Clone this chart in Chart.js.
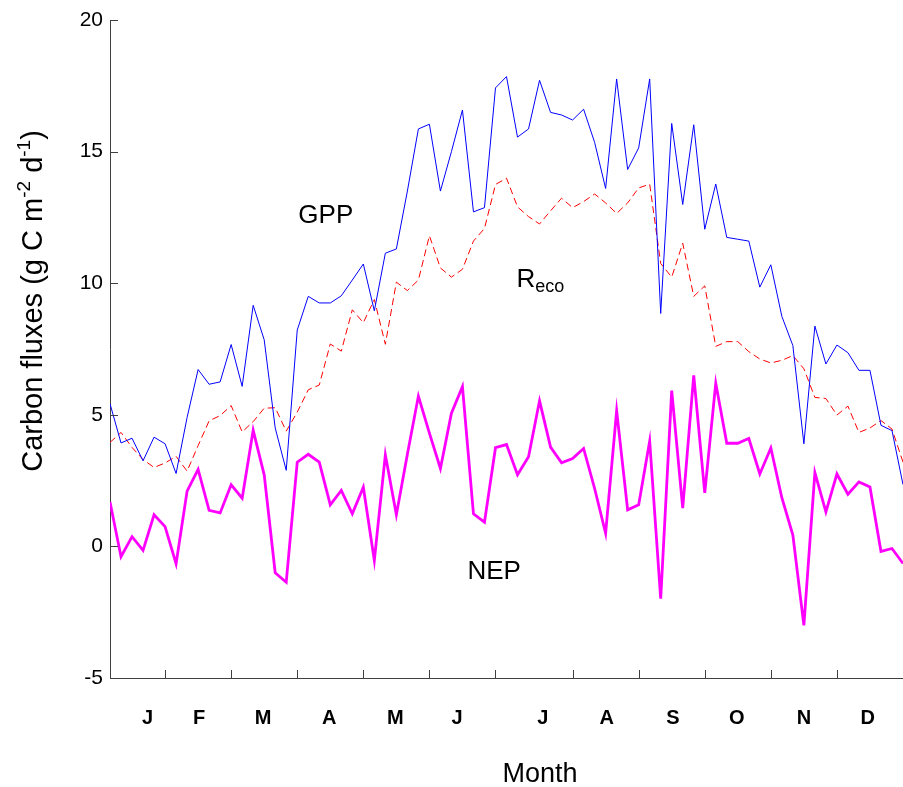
<!DOCTYPE html>
<html>
<head>
<meta charset="utf-8">
<script src="https://cdn.jsdelivr.net/npm/chart.js@4.4.1/dist/chart.umd.min.js"></script>
<style>
  body { margin: 0; background: #fff; }
</style>
</head>
<body>
<canvas id="grafico" width="903" height="787"></canvas>
<script>
// 5-day periods, 73 per year
const gpp = [5.42, 3.93, 4.11, 3.25, 4.15, 3.9, 2.77, 4.9, 6.72, 6.16, 6.25, 7.67, 6.08, 9.16, 7.85,
  4.5, 2.89, 8.22, 9.5, 9.25, 9.25, 9.52, 10.12, 10.73, 8.95, 11.14, 11.3, 13.5, 15.86, 16.04,
  13.5, 15.0, 16.58, 12.71, 12.87, 17.42, 17.85, 15.55, 15.86, 17.71, 16.49, 16.39, 16.2, 16.61, 15.35,
  13.6, 17.76, 14.32, 15.14, 17.76, 8.85, 16.07, 12.99, 16.02, 12.05, 13.77, 11.74, 11.67, 11.6, 9.85,
  10.7, 8.74, 7.63, 3.9, 8.37, 6.93, 7.65, 7.36, 6.69, 6.69, 4.6, 4.4, 2.35];
const reco = [3.95, 4.33, 3.76, 3.3, 3.0, 3.17, 3.42, 2.86, 3.83, 4.77, 4.97, 5.35, 4.35, 4.74, 5.25,
  5.27, 4.38, 5.1, 5.95, 6.13, 7.69, 7.42, 8.99, 8.5, 9.38, 7.68, 10.04, 9.72, 10.12, 11.8,
  10.58, 10.23, 10.53, 11.6, 12.08, 13.75, 13.99, 12.9, 12.53, 12.25, 12.75, 13.23, 12.87, 13.1, 13.39,
  13.05, 12.65, 13.05, 13.62, 13.76, 10.75, 10.23, 11.52, 9.5, 9.9, 7.6, 7.78, 7.78, 7.4, 7.12,
  6.97, 7.07, 7.25, 6.75, 5.66, 5.62, 4.99, 5.33, 4.33, 4.5, 4.78, 4.46, 3.2];
const nep = [1.69, -0.39, 0.37, -0.15, 1.2, 0.75, -0.66, 2.1, 2.93, 1.37, 1.27, 2.34, 1.83, 4.41, 2.72,
  -1.0, -1.36, 3.2, 3.5, 3.2, 1.58, 2.13, 1.24, 2.25, -0.53, 3.48, 1.2, 3.5, 5.71, 4.3,
  2.96, 5.06, 6.07, 1.24, 0.92, 3.75, 3.87, 2.72, 3.41, 5.53, 3.77, 3.18, 3.34, 3.72, 2.2,
  0.5, 5.15, 1.39, 1.58, 4.0, -1.99, 5.92, 1.45, 6.5, 2.03, 6.2, 3.92, 3.92, 4.1, 2.75,
  3.74, 1.85, 0.43, -3.0, 2.8, 1.31, 2.75, 1.98, 2.45, 2.26, -0.19, -0.08, -0.65];

const monthLabels = ['J', 'F', 'M', 'A', 'M', 'J', 'J', 'A', 'S', 'O', 'N', 'D'];
const monthLabelPos = [3.4, 8.1, 13.9, 19.9, 25.9, 31.5, 39.3, 45.1, 51.1, 56.9, 63, 68.8];
const monthTickPos = [5, 11, 17, 23, 29, 35, 42, 48, 54, 60, 66];
const yTicks = [-5, 0, 5, 10, 15, 20];

const fonte = '"Liberation Sans", Arial, sans-serif';
const pontos = arr => arr.map((v, i) => ({ x: i, y: v }));

// marcas internas, rótulos e título do eixo y
const extras = {
  id: 'extras',
  afterDraw(chart) {
    const { ctx, chartArea, scales: { x, y } } = chart;
    ctx.save();
    ctx.strokeStyle = '#404040';
    ctx.lineWidth = 1;
    ctx.beginPath();
    monthTickPos.forEach(v => {
      const px = Math.round(x.getPixelForValue(v)) + 0.5;
      ctx.moveTo(px, chartArea.bottom);
      ctx.lineTo(px, chartArea.bottom - 8);
    });
    yTicks.forEach(v => {
      const py = Math.round(y.getPixelForValue(v)) + 0.5;
      ctx.moveTo(chartArea.left, py);
      ctx.lineTo(chartArea.left + 8, py);
    });
    ctx.stroke();

    ctx.fillStyle = '#000';
    ctx.textBaseline = 'alphabetic';
    ctx.textAlign = 'left';
    ctx.font = '26px ' + fonte;
    ctx.fillText('GPP', x.getPixelForValue(17.1), y.getPixelForValue(12.28));
    ctx.fillText('NEP', x.getPixelForValue(32.45), y.getPixelForValue(-1.22));
    const rx = x.getPixelForValue(36.9), ry = y.getPixelForValue(9.85);
    ctx.fillText('R', rx, ry);
    const rw = ctx.measureText('R').width;
    ctx.font = '18px ' + fonte;
    ctx.fillText('eco', rx + rw, ry + 5);

    // "Month"
    ctx.font = '27px ' + fonte;
    ctx.textAlign = 'center';
    ctx.fillText('Month', 540, 782);

    // título do eixo y com sobrescritos
    const partes = [
      { t: 'Carbon fluxes (g C m', s: 29, dy: 0 },
      { t: '-2', s: 19, dy: -12 },
      { t: ' d', s: 29, dy: 0 },
      { t: '-1', s: 19, dy: -12 },
      { t: ')', s: 29, dy: 0 }
    ];
    let total = 0;
    partes.forEach(p => { ctx.font = p.s + 'px ' + fonte; p.w = ctx.measureText(p.t).width; total += p.w; });
    ctx.translate(42, 301);
    ctx.rotate(-Math.PI / 2);
    ctx.textAlign = 'left';
    let cx = -total / 2;
    partes.forEach(p => {
      ctx.font = p.s + 'px ' + fonte;
      ctx.fillText(p.t, cx, p.dy);
      cx += p.w;
    });
    ctx.restore();
  }
};

const ctx = document.getElementById('grafico').getContext('2d');
new Chart(ctx, {
  type: 'line',
  data: {
    datasets: [
      { label: 'GPP', data: pontos(gpp), borderColor: '#0000ff', borderWidth: 1 },
      { label: 'Reco', data: pontos(reco), borderColor: '#ff0000', borderWidth: 1, borderDash: [7, 4] },
      { label: 'NEP', data: pontos(nep), borderColor: '#ff00ff', borderWidth: 2.8 }
    ]
  },
  options: {
    responsive: false,
    animation: false,
    layout: { padding: { top: 20, right: 0, left: 0, bottom: 0 } },
    elements: { point: { radius: 0 }, line: { tension: 0 } },
    plugins: { legend: { display: false }, tooltip: { enabled: false } },
    scales: {
      x: {
        type: 'linear',
        min: 0,
        max: 72,
        afterBuildTicks: scale => { scale.ticks = monthLabelPos.map(v => ({ value: v })); },
        afterFit: scale => { scale.height = 109; },
        ticks: {
          autoSkip: false,
          maxRotation: 0,
          padding: 28,
          color: '#000',
          font: { family: fonte, size: 20, weight: 'bold' },
          callback: (v, i) => monthLabels[i]
        },
        grid: { drawOnChartArea: false, drawTicks: false },
        border: { color: '#404040', width: 1 }
      },
      y: {
        min: -5,
        max: 20,
        afterBuildTicks: scale => { scale.ticks = yTicks.map(v => ({ value: v })); },
        afterFit: scale => { scale.width = 110; },
        ticks: {
          padding: 7,
          color: '#000',
          font: { family: fonte, size: 21 }
        },
        grid: { drawOnChartArea: false, drawTicks: false },
        border: { color: '#404040', width: 1 }
      }
    }
  },
  plugins: [extras]
});
</script>
</body>
</html>
